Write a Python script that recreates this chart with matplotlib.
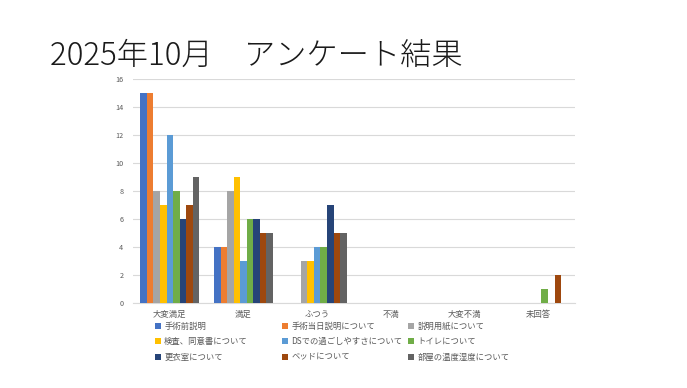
import matplotlib
matplotlib.use("Agg")
import matplotlib.pyplot as plt
import numpy as np

plt.rcParams['font.family'] = ['Noto Sans CJK JP', 'DejaVu Sans']

categories = ["大変満足", "満足", "ふつう", "不満", "大変不満", "未回答"]
series_names = ["手術前説明", "手術当日説明について", "説明用紙について",
                "検査、同意書について", "DSでの過ごしやすさについて", "トイレについて",
                "更衣室について", "ベッドについて", "部屋の温度湿度について"]
s_pre = [15, 4, 0, 0, 0, 0]
s_day = [15, 4, 0, 0, 0, 0]
s_paper = [8, 8, 3, 0, 0, 0]
s_exam = [7, 9, 3, 0, 0, 0]
s_ds = [12, 3, 4, 0, 0, 0]
s_toilet = [8, 6, 4, 0, 0, 1]
s_locker = [6, 6, 7, 0, 0, 0]
s_bed = [7, 5, 5, 0, 0, 2]
s_room = [9, 5, 5, 0, 0, 0]
values = [s_pre, s_day, s_paper, s_exam, s_ds, s_toilet, s_locker, s_bed, s_room]
colors = ["#4472C4", "#ED7D31", "#A5A5A5", "#FFC000", "#5B9BD5",
          "#70AD47", "#264478", "#9E480E", "#636363"]
yticks = [0, 2, 4, 6, 8, 10, 12, 14, 16]

fig = plt.figure(figsize=(6.87, 3.88), dpi=100)
ax = fig.add_axes([133/687, 1-303.3/388, (575-133)/687, (303.3-78.7)/388])

n = len(values)
x = np.arange(len(categories))
group = 0.8
w = group / n
handles = []
for i, (vals, c) in enumerate(zip(values, colors)):
    b = ax.bar(x - group/2 + w*(i+0.5), vals, width=w, color=c, label=series_names[i], zorder=3)
    handles.append(b)

ax.set_xlim(-0.5, len(categories)-0.5)
ax.set_ylim(0, 16)
ax.set_yticks(yticks)
ax.set_yticklabels([str(t) for t in yticks], fontsize=5.2, color="#595959")
ax.set_xticks(x)
ax.set_xticklabels(categories, fontsize=6, color="#595959")
ax.tick_params(axis='both', length=0)
ax.tick_params(axis='y', pad=7)
ax.tick_params(axis='x', pad=5)
ax.grid(axis='y', color="#D9D9D9", linewidth=0.8, zorder=0)
for s in ['top', 'right', 'left']:
    ax.spines[s].set_visible(False)
ax.spines['bottom'].set_color("#D9D9D9")
ax.spines['bottom'].set_linewidth(0.8)

col_x = [155/687, 282/687, 408/687]
for ci in range(3):
    idx = [ci, ci+3, ci+6]
    leg = fig.legend([handles[k] for k in idx], [series_names[k] for k in idx],
                     loc='upper left', bbox_to_anchor=(col_x[ci], 1-322/388),
                     frameon=False, fontsize=6, handlelength=0.7, handleheight=0.7,
                     handletextpad=0.4, labelspacing=0.75, borderpad=0, borderaxespad=0)
    for t in leg.get_texts():
        t.set_color("#595959")

fig.text(50/687, 1-65/388, "2025年10月　アンケート結果", fontsize=22.5, color="#1a1a1a",
         va='baseline', ha='left', fontweight='light')

fig.savefig("out.png", dpi=100)
